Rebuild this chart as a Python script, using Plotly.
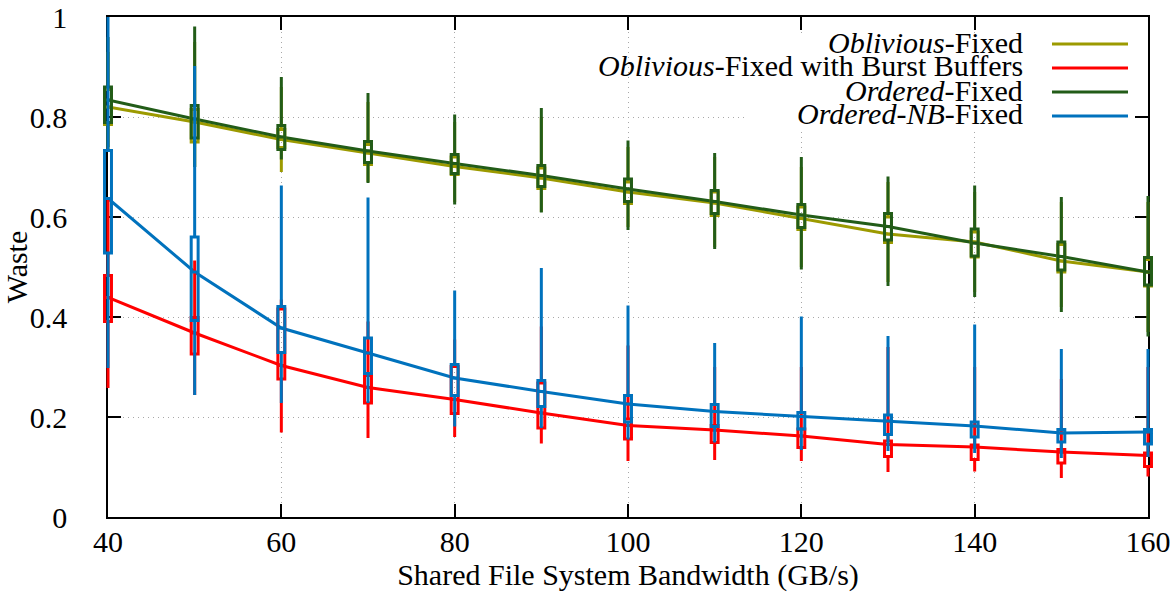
import plotly.graph_objects as go

# ---------------- data ----------------
x_vals = [40, 50, 60, 70, 80, 90, 100, 110, 120, 130, 140, 150, 160]
x_ticks = [40, 60, 80, 100, 120, 140, 160]
y_ticks = [0, 0.2, 0.4, 0.6, 0.8, 1.0]
y_ticktext = ["0", "0.2", "0.4", "0.6", "0.8", "1"]

olive_mean = [0.820, 0.790, 0.755, 0.728, 0.701, 0.678, 0.650, 0.628, 0.597, 0.566, 0.550, 0.512, 0.490]
olive_q1 = [0.785, 0.750, 0.739, 0.705, 0.685, 0.657, 0.627, 0.603, 0.575, 0.549, 0.520, 0.490, 0.462]
olive_q3 = [0.855, 0.815, 0.775, 0.745, 0.720, 0.698, 0.670, 0.650, 0.620, 0.600, 0.570, 0.545, 0.515]
olive_min = [0.730, 0.700, 0.690, 0.670, 0.630, 0.610, 0.580, 0.540, 0.500, 0.470, 0.450, 0.420, 0.370]
olive_max = [0.930, 0.950, 0.860, 0.830, 0.790, 0.800, 0.740, 0.720, 0.700, 0.670, 0.650, 0.630, 0.630]

red_mean = [0.439, 0.368, 0.303, 0.259, 0.235, 0.208, 0.183, 0.174, 0.162, 0.145, 0.140, 0.130, 0.123]
red_q1 = [0.391, 0.326, 0.276, 0.228, 0.207, 0.178, 0.156, 0.149, 0.139, 0.121, 0.115, 0.108, 0.101]
red_q3 = [0.483, 0.399, 0.416, 0.283, 0.301, 0.268, 0.196, 0.183, 0.176, 0.152, 0.144, 0.135, 0.128]
red_min = [0.258, 0.244, 0.169, 0.158, 0.160, 0.147, 0.112, 0.114, 0.112, 0.090, 0.091, 0.078, 0.081]
red_max = [0.634, 0.513, 0.435, 0.391, 0.355, 0.381, 0.343, 0.300, 0.300, 0.340, 0.300, 0.276, 0.300]

green_mean = [0.834, 0.796, 0.760, 0.732, 0.707, 0.683, 0.656, 0.631, 0.604, 0.581, 0.548, 0.521, 0.490]
green_q1 = [0.789, 0.758, 0.735, 0.709, 0.687, 0.661, 0.631, 0.607, 0.579, 0.554, 0.522, 0.494, 0.464]
green_q3 = [0.860, 0.823, 0.783, 0.751, 0.725, 0.703, 0.676, 0.653, 0.625, 0.607, 0.576, 0.550, 0.519]
green_min = [0.740, 0.700, 0.715, 0.668, 0.625, 0.609, 0.574, 0.536, 0.495, 0.462, 0.440, 0.410, 0.361]
green_max = [0.960, 0.981, 0.880, 0.848, 0.805, 0.818, 0.753, 0.728, 0.720, 0.681, 0.663, 0.640, 0.642]

blue_mean = [0.637, 0.490, 0.378, 0.328, 0.278, 0.251, 0.226, 0.211, 0.201, 0.192, 0.182, 0.168, 0.170]
blue_q1 = [0.528, 0.393, 0.329, 0.287, 0.243, 0.221, 0.190, 0.181, 0.176, 0.165, 0.160, 0.150, 0.146]
blue_q3 = [0.733, 0.560, 0.421, 0.358, 0.305, 0.273, 0.243, 0.225, 0.209, 0.204, 0.190, 0.175, 0.175]
blue_min = [0.298, 0.244, 0.228, 0.228, 0.181, 0.178, 0.155, 0.149, 0.134, 0.132, 0.128, 0.118, 0.120]
blue_max = [1.000, 0.902, 0.663, 0.639, 0.453, 0.498, 0.423, 0.348, 0.401, 0.362, 0.385, 0.336, 0.336]

series = [
    ("<i>Oblivious</i>-Fixed", "#9c9a00", olive_mean, olive_q1, olive_q3, olive_min, olive_max),
    ("<i>Oblivious</i>-Fixed with Burst Buffers", "#ff0000", red_mean, red_q1, red_q3, red_min, red_max),
    ("<i>Ordered</i>-Fixed", "#225c18", green_mean, green_q1, green_q3, green_min, green_max),
    ("<i>Ordered-NB</i>-Fixed", "#0072bd", blue_mean, blue_q1, blue_q3, blue_min, blue_max),
]

# ---------------- geometry ----------------
W, H = 1173, 592
ML, MR, MT, MB = 103, 20, 12, 70
PAD = 5  # px of extra room so boxes at the frame are not clipped
PW, PH = W - ML - MR, H - MT - MB
XR = (40, 160)
YR = (0, 1)
xpx = (PW - 2 * PAD) / (XR[1] - XR[0])
ypx = (PH - 2 * PAD) / (YR[1] - YR[0])

FONT = "Liberation Serif, Times New Roman, DejaVu Serif, serif"
FS = 30


def px2paper_x(px):
    return (px - ML) / PW


def px2paper_y(py):
    return (H - MB - py) / PH


fig = go.Figure()

# mean lines on the framed subplot (x / y)
for name, color, mean, q1, q3, mn, mx in series:
    fig.add_trace(go.Scatter(
        x=x_vals, y=mean, mode="lines", line=dict(color=color, width=3),
        xaxis="x", yaxis="y", showlegend=False, name=name,
    ))

# box-and-whisker marks on an overlapping, slightly larger subplot (x2 / y2)
for name, color, mean, q1, q3, mn, mx in series:
    fig.add_trace(go.Box(
        x=x_vals, q1=q1, median=mean, q3=q3, lowerfence=mn, upperfence=mx,
        width=0.8, whiskerwidth=0, boxpoints=False,
        line=dict(color=color, width=3), fillcolor="rgba(0,0,0,0)",
        xaxis="x2", yaxis="y2", showlegend=False, hoverinfo="skip", name=name,
    ))

axis_common = dict(
    showline=True, linecolor="black", linewidth=1.5, mirror="allticks",
    ticks="inside", ticklen=13, tickwidth=1.5, tickcolor="black",
    showgrid=True, gridcolor="#a8a8a8", gridwidth=1, griddash="1px,4px",
    zeroline=False, automargin=False,
    tickfont=dict(family=FONT, size=FS, color="black"),
)

fig.update_layout(
    width=W, height=H,
    margin=dict(l=ML, r=MR, t=MT, b=MB, autoexpand=False),
    paper_bgcolor="white", plot_bgcolor="rgba(0,0,0,0)",
    boxmode="overlay",
    font=dict(family=FONT, size=FS, color="black"),
    xaxis=dict(
        domain=[PAD / PW, 1 - PAD / PW], range=list(XR), anchor="y",
        tickvals=x_ticks, ticktext=[str(v) for v in x_ticks],
        ticklabelstandoff=-3,
        title=dict(text="Shared File System Bandwidth (GB/s)", font=dict(family=FONT, size=FS), standoff=10),
        **axis_common,
    ),
    yaxis=dict(
        domain=[PAD / PH, 1 - PAD / PH], range=list(YR), anchor="x",
        tickvals=y_ticks, ticktext=y_ticktext,
        ticklabelstandoff=33,
        title=dict(text="Waste", font=dict(family=FONT, size=FS), standoff=0),
        **axis_common,
    ),
    xaxis2=dict(
        domain=[0, 1], anchor="y2", visible=False, automargin=False,
        range=[XR[0] - PAD / xpx, XR[1] + PAD / xpx],
    ),
    yaxis2=dict(
        domain=[0, 1], anchor="x2", visible=False, automargin=False,
        range=[YR[0] - PAD / ypx, YR[1] + PAD / ypx],
    ),
    showlegend=False,
)

# legend (opaque key, text right-aligned with sample line to its right)
shapes = [dict(
    type="rect", xref="paper", yref="paper",
    x0=px2paper_x(745), x1=px2paper_x(1134), y0=px2paper_y(131), y1=px2paper_y(34),
    fillcolor="white", line=dict(width=0), layer="above",
)]
annotations = []
row_y = [42, 66, 90, 114]
for (name, color, *_), ry in zip(series, row_y):
    annotations.append(dict(
        text=name, xref="paper", yref="paper", x=px2paper_x(1025), y=px2paper_y(ry),
        xanchor="right", yanchor="middle", showarrow=False,
        font=dict(family=FONT, size=FS, color="black"),
    ))
    shapes.append(dict(
        type="line", xref="paper", yref="paper",
        x0=px2paper_x(1052), x1=px2paper_x(1128), y0=px2paper_y(ry + 2), y1=px2paper_y(ry + 2),
        line=dict(color=color, width=3), layer="above",
    ))
fig.update_layout(shapes=shapes, annotations=annotations)

fig.write_html(
    "out.html",
    config={"displayModeBar": False},
    post_script="document.body.style.margin='0px';",
)
